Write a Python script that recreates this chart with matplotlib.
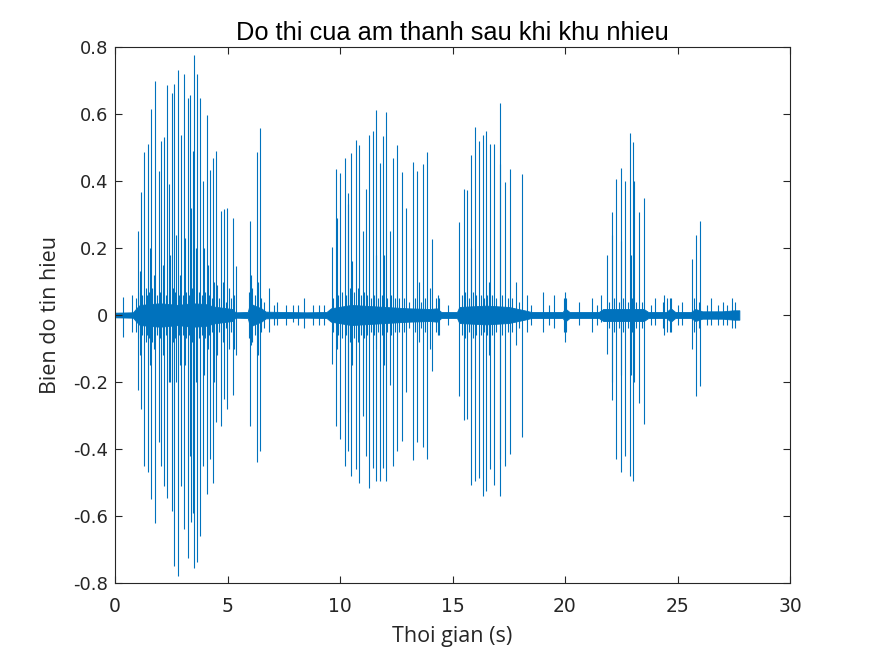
import matplotlib
matplotlib.use("Agg")
import matplotlib.pyplot as plt
import numpy as np

plt.rcParams["axes.unicode_minus"] = False

# main pitch pulses: time (s), positive peak, negative peak
pulse_t = [0.37, 0.74, 1.04, 1.17, 1.30, 1.48, 1.61, 1.79, 1.94, 2.06, 2.19, 2.33, 2.39,
           2.52, 2.64, 2.79, 2.95, 3.07, 3.23, 3.35, 3.38, 3.47, 3.53, 3.66, 3.78, 3.91,
           4.07, 4.22, 4.37, 4.50, 4.70, 4.86, 4.99, 5.26, 5.38, 5.99, 6.31, 6.45,
           9.63, 9.83, 9.87, 9.98, 10.2, 10.34, 10.37, 10.5, 10.71, 10.85, 11.0, 11.15,
           11.28, 11.46, 11.60, 11.76, 11.93, 12.03, 12.2, 12.36, 12.52, 12.75, 12.92,
           13.23, 13.43, 13.69, 13.87, 14.11,
           15.31, 15.49, 15.64, 15.82, 15.98, 16.16, 16.34, 16.48, 16.67, 16.84, 17.11,
           17.34, 17.56, 18.11,
           21.88, 22.08, 22.28, 22.47, 22.68, 22.87, 23.03, 23.30, 23.52,
           25.64, 25.83, 26.02]
pulse_pos = [0.055, 0.06, 0.25, 0.366, 0.486, 0.51, 0.615, 0.70, 0.43, 0.52, 0.53, 0.686, 0.39,
             0.664, 0.69, 0.73, 0.537, 0.72, 0.647, 0.657, 0.32, 0.49, 0.776, 0.72, 0.647, 0.40,
             0.597, 0.433, 0.47, 0.49, 0.31, 0.316, 0.318, 0.29, 0.147, 0.28, 0.488, 0.557,
             0.204, 0.437, 0.29, 0.425, 0.47, 0.364, 0.33, 0.483, 0.523, 0.506, 0.25, 0.375,
             0.538, 0.55, 0.612, 0.455, 0.534, 0.607, 0.25, 0.47, 0.508, 0.427, 0.32,
             0.457, 0.43, 0.45, 0.488, 0.228,
             0.278, 0.377, 0.372, 0.478, 0.56, 0.518, 0.538, 0.549, 0.51, 0.51, 0.633,
             0.397, 0.435, 0.42,
             0.18, 0.307, 0.407, 0.44, 0.40, 0.542, 0.516, 0.307, 0.35,
             0.167, 0.238, 0.28]
pulse_neg = [-0.065, -0.05, -0.224, -0.28, -0.45, -0.47, -0.55, -0.62, -0.38, -0.45, -0.51, -0.547, -0.20,
             -0.584, -0.75, -0.78, -0.51, -0.64, -0.726, -0.42, -0.617, -0.59, -0.756, -0.736, -0.66, -0.45,
             -0.535, -0.43, -0.50, -0.32, -0.33, -0.25, -0.28, -0.24, -0.12, -0.33, -0.44, -0.405,
             -0.147, -0.332, -0.10, -0.37, -0.45, -0.405, -0.29, -0.48, -0.46, -0.50, -0.30, -0.42,
             -0.516, -0.456, -0.496, -0.496, -0.456, -0.496, -0.21, -0.45, -0.405, -0.375, -0.23,
             -0.433, -0.38, -0.395, -0.43, -0.167,
             -0.243, -0.314, -0.31, -0.506, -0.496, -0.486, -0.54, -0.524, -0.46, -0.506, -0.54,
             -0.45, -0.415, -0.364,
             -0.117, -0.253, -0.43, -0.468, -0.42, -0.48, -0.496, -0.263, -0.326,
             -0.10, -0.243, -0.213]

# smaller secondary spikes
minor_t = [1.09, 1.57, 1.73, 2.12, 2.45, 2.72, 2.90, 3.12, 3.60, 3.97, 4.12, 4.42, 4.55,
           4.78, 5.05, 5.31, 6.05, 6.36, 6.83, 7.20, 7.90, 8.40, 9.05,
           10.55, 11.62, 11.95, 13.5, 14.0, 14.4, 14.8,
           15.84, 16.6, 17.12, 17.8, 18.3, 19.0, 19.5, 20.0, 20.6,
           21.2, 21.6, 22.1, 22.48, 22.92, 23.05, 24.0, 24.4, 24.7, 25.2,
           26.5, 27.0, 27.4]
minor_pos = [0.13, 0.20, 0.12, 0.15, 0.18, 0.24, 0.12, 0.23, 0.20, 0.20, 0.15, 0.10, 0.09,
             0.10, 0.08, 0.06, 0.12, 0.10, 0.08, 0.04, 0.03, 0.05, 0.03,
             0.16, 0.18, 0.18, 0.10, 0.08, 0.05, 0.03,
             0.20, 0.10, 0.45, 0.10, 0.06, 0.07, 0.06, 0.07, 0.04,
             0.05, 0.06, 0.24, 0.22, 0.18, 0.40, 0.05, 0.06, 0.05, 0.04,
             0.05, 0.04, 0.05]
minor_neg = [-0.12, -0.15, -0.10, -0.12, -0.20, -0.20, -0.15, -0.15, -0.20, -0.18, -0.10, -0.20, -0.12,
             -0.08, -0.10, -0.10, -0.09, -0.12, -0.05, -0.03, -0.02, -0.04, -0.03,
             -0.15, -0.10, -0.15, -0.08, -0.10, -0.06, -0.03,
             -0.19, -0.12, -0.43, -0.09, -0.05, -0.05, -0.04, -0.08, -0.03,
             -0.05, -0.02, -0.20, -0.18, -0.18, -0.20, -0.03, -0.06, -0.05, -0.03,
             -0.03, -0.03, -0.04]

# small ripples inside the voiced parts of the noise floor
ripple_t = [0.95, 1.12, 1.22, 1.36, 1.42, 1.53, 1.66, 1.85, 2.00, 2.26, 2.58, 2.68, 2.85,
            3.00, 3.17, 3.29, 3.42, 3.72, 3.85, 4.02, 4.17, 4.30, 4.62, 4.92, 5.15,
            5.95, 6.10, 6.20, 6.50, 6.62, 7.05, 7.60, 8.15, 8.80, 9.30,
            9.70, 9.92, 10.08, 10.27, 10.43, 10.62, 10.78, 10.92, 11.08, 11.22, 11.38,
            11.53, 11.68, 11.85, 12.10, 12.28, 12.45, 12.62, 12.85, 13.05, 13.35, 13.58,
            13.78, 14.25, 14.35, 15.40, 15.57, 15.72, 15.90, 16.05, 16.25, 16.40, 16.55,
            16.75, 16.95, 17.20, 17.45, 17.65, 17.95, 18.50, 19.30, 19.95, 20.05,
            21.40, 21.95, 22.18, 22.38, 22.58, 22.78, 22.98, 23.15, 23.42, 23.80,
            24.35, 24.55, 24.65, 25.00, 25.75, 25.95, 26.30, 26.80, 27.20, 27.55]
ripple_amp = [0.05, 0.07, 0.06, 0.08, 0.06, 0.07, 0.08, 0.06, 0.07, 0.06, 0.08, 0.07, 0.06,
              0.06, 0.07, 0.06, 0.08, 0.07, 0.06, 0.07, 0.06, 0.05, 0.05, 0.04, 0.05,
              0.07, 0.08, 0.06, 0.05, 0.04, 0.03, 0.03, 0.03, 0.03, 0.03,
              0.05, 0.06, 0.07, 0.06, 0.08, 0.07, 0.08, 0.06, 0.07, 0.06, 0.05,
              0.06, 0.05, 0.06, 0.05, 0.06, 0.05, 0.05, 0.05, 0.04, 0.05, 0.04,
              0.05, 0.05, 0.06, 0.06, 0.07, 0.05, 0.07, 0.06, 0.06, 0.05, 0.06,
              0.06, 0.05, 0.06, 0.05, 0.05, 0.04, 0.03, 0.03, 0.05, 0.05,
              0.03, 0.04, 0.05, 0.04, 0.05, 0.04, 0.05, 0.04, 0.04, 0.03,
              0.04, 0.05, 0.05, 0.03, 0.05, 0.04, 0.03, 0.03, 0.03, 0.04]

# noise floor half-width along the recording
env_t = [0.0, 0.8, 0.95, 1.1, 2.0, 2.8, 3.4, 4.0, 4.4, 5.2, 5.35, 5.9, 6.0, 6.2, 6.5, 6.7,
         7.5, 8.5, 9.4, 9.6, 10.5, 11.0, 12.0, 13.0, 14.0, 14.3, 14.5, 15.2, 15.3, 16.5,
         17.5, 18.2, 18.5, 19.9, 20.0, 20.2, 21.5, 21.7, 23.5, 23.7, 24.5, 24.7, 24.9,
         25.6, 25.8, 26.1, 27.0, 27.5, 27.75]
env_amp = [0.007, 0.008, 0.02, 0.03, 0.035, 0.03, 0.035, 0.033, 0.025, 0.018, 0.008, 0.009, 0.035,
           0.028, 0.02, 0.01, 0.009, 0.008, 0.009, 0.02, 0.03, 0.028, 0.024, 0.02, 0.018, 0.02,
           0.009, 0.009, 0.024, 0.028, 0.024, 0.014, 0.009, 0.009, 0.02, 0.009, 0.009, 0.018,
           0.018, 0.009, 0.009, 0.02, 0.009, 0.009, 0.018, 0.011, 0.011, 0.014, 0.014]

x_ticks = [0, 5, 10, 15, 20, 25, 30]
y_ticks = [-0.8, -0.6, -0.4, -0.2, 0, 0.2, 0.4, 0.6, 0.8]
y_labels = ["-0.8", "-0.6", "-0.4", "-0.2", "0", "0.2", "0.4", "0.6", "0.8"]

blue = "#0072BD"
axis_col = "#262626"
label_font = "Open Sans"
tick_font = "DejaVu Sans"

fig = plt.figure(figsize=(8.74, 6.56), dpi=100)
ax = fig.add_axes([115 / 874, 73 / 656, 675 / 874, 536 / 656])

env_amp = np.array(env_amp)
ripple_amp = np.array(ripple_amp)
ax.fill_between(env_t, -env_amp, env_amp, color=blue, linewidth=0.6)
ax.vlines(ripple_t, -ripple_amp, ripple_amp, color=blue, linewidth=0.8)
ax.vlines(minor_t, minor_neg, minor_pos, color=blue, linewidth=0.8)
ax.vlines(pulse_t, pulse_neg, pulse_pos, color=blue, linewidth=0.8)

ax.set_xlim(0, 30)
ax.set_ylim(-0.8, 0.8)
ax.set_xticks(x_ticks)
ax.set_xticklabels([str(v) for v in x_ticks])
ax.set_yticks(y_ticks)
ax.set_yticklabels(y_labels)
ax.tick_params(direction="in", length=5, width=0.8, colors=axis_col,
               top=True, right=True, labelsize=13, pad=5)
ax.tick_params(axis="x", labelsize=13.5, pad=10)
for lab in ax.get_xticklabels() + ax.get_yticklabels():
    lab.set_family(tick_font)
for sp in ax.spines.values():
    sp.set_color(axis_col)
    sp.set_linewidth(0.8)

ax.set_xlabel("Thoi gian (s)", fontsize=15.5, family=label_font, color=axis_col, labelpad=7)
ax.set_ylabel("Bien do tin hieu", fontsize=15.5, family=label_font, color=axis_col, labelpad=9)
ax.set_title("Do thi cua am thanh sau khi khu nhieu", fontsize=18.3,
             family="Liberation Sans", color="black", pad=5)

fig.savefig("out.png", dpi=100)
